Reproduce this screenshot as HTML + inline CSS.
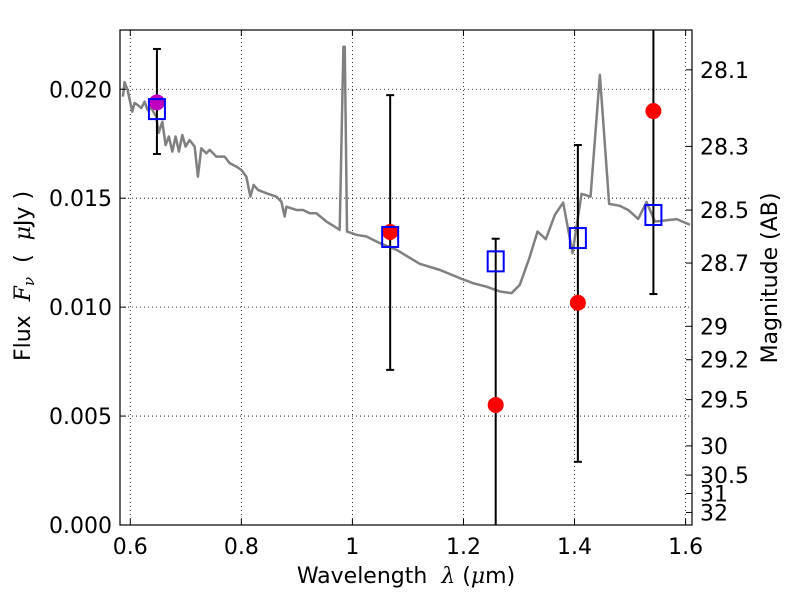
<!DOCTYPE html>
<html><head><meta charset="utf-8"><style>
body{margin:0;background:#fff}
svg{display:block;font-family:"DejaVu Sans","Liberation Sans",sans-serif}
</style></head><body>
<svg id="chart" width="800" height="600" viewBox="0 0 800 600"></svg>
<script>
const specX=[0.5867,0.5897,0.5951,0.6036,0.6077,0.6132,0.6198,0.6258,0.6312,0.6378,0.6468,0.651,0.6577,0.6636,0.6695,0.6757,0.6816,0.6876,0.6937,0.6996,0.7068,0.7159,0.7218,0.7279,0.7369,0.7429,0.755,0.7699,0.7789,0.791,0.8,0.809,0.8162,0.8222,0.8299,0.845,0.8631,0.8721,0.878,0.8811,0.8991,0.911,0.9231,0.9351,0.9532,0.9771,0.9838,0.9862,0.9903,1.0072,1.0252,1.0492,1.0793,1.1213,1.1573,1.1933,1.2173,1.2414,1.2654,1.2865,1.3014,1.3195,1.3333,1.3483,1.3645,1.3795,1.3964,1.4126,1.4288,1.4456,1.4623,1.4816,1.4966,1.5146,1.5297,1.5447,1.5568,1.5838,1.6078];
const specY=[0.01966,0.02033,0.01997,0.01897,0.01937,0.01928,0.01914,0.01943,0.01905,0.01914,0.01874,0.018,0.01851,0.01744,0.01783,0.01714,0.01783,0.01714,0.0179,0.01737,0.01767,0.01737,0.01599,0.01729,0.01706,0.01722,0.01691,0.01691,0.01661,0.01645,0.0163,0.01599,0.01507,0.01561,0.01538,0.01523,0.01507,0.01484,0.01416,0.01461,0.01446,0.01446,0.01431,0.01431,0.01393,0.01355,0.02195,0.02195,0.01347,0.01332,0.01324,0.01294,0.01263,0.01199,0.01171,0.01133,0.0111,0.01094,0.01072,0.01064,0.01102,0.01232,0.01347,0.01312,0.01423,0.0148,0.01248,0.0152,0.01507,0.02066,0.01474,0.01465,0.01446,0.01405,0.01482,0.01393,0.01396,0.01404,0.01378];
const bandX=[0.648,1.068,1.258,1.406,1.542];
const modelFlux=[0.01909,0.01322,0.0121,0.01317,0.01423];
const obsX=[1.068,1.258,1.406,1.542];
const obsFlux=[0.01345,0.00551,0.0102,0.0190];
const extraX=[0.648];
const extraFlux=[0.0194];
const errLow=[0.01703,0.00712,-0.002,0.0029,0.0106];
const errHigh=[0.02185,0.01973,0.01314,0.01744,0.025];
const xTicks=[0.6,0.8,1.0,1.2,1.4,1.6];
const xTickLabels=["0.6","0.8","1","1.2","1.4","1.6"];
const yTicks=[0,0.005,0.010,0.015,0.020];
const yTickLabels=["0.000","0.005","0.010","0.015","0.020"];
const magTicks=[28.1,28.3,28.5,28.7,29,29.2,29.5,30,30.5,31,32];
const magTickLabels=["28.1","28.3","28.5","28.7","29","29.2","29.5","30","30.5","31","32"];

const L=120,R=692,T=30,B=525;
const xmin=0.5815,xmax=1.6115,ymin=0,ymax=0.02272;
const sx=v=>L+(v-xmin)/(xmax-xmin)*(R-L);
const sy=v=>B-(v-ymin)/(ymax-ymin)*(B-T);
const magToFlux=m=>Math.pow(10,(23.9-m)/2.5);
const NS="http://www.w3.org/2000/svg";
const svg=document.getElementById('chart');
function mk(tag,attrs,parent){const e=document.createElementNS(NS,tag);for(const k in attrs)e.setAttribute(k,attrs[k]);(parent||svg).appendChild(e);return e;}
const defs=mk('defs',{});
const cp=mk('clipPath',{id:'clip'},defs);mk('rect',{x:L,y:T,width:R-L,height:B-T},cp);

const grid=mk('g',{stroke:'#000','stroke-width':0.8,'stroke-dasharray':'1,3'});


xTicks.forEach(v=>mk('line',{x1:sx(v),x2:sx(v),y1:T,y2:B},grid));
yTicks.forEach(v=>mk('line',{x1:L,x2:R,y1:sy(v),y2:sy(v)},grid));

const plot=mk('g',{'clip-path':'url(#clip)'});
const sp=mk('polyline',{points:specX.map((x,i)=>sx(x)+','+sy(specY[i])).join(' '),fill:'none',stroke:'#808080','stroke-width':2.5,'stroke-linejoin':'round'},plot);


bandX.forEach((x,i)=>{
  const g=mk('g',{stroke:'#000','stroke-width':2},plot);
  
  
  mk('line',{x1:sx(x),x2:sx(x),y1:sy(errLow[i]),y2:sy(errHigh[i])},g);
  mk('line',{x1:sx(x)-4,x2:sx(x)+4,y1:sy(errLow[i]),y2:sy(errLow[i])},g);
  mk('line',{x1:sx(x)-4,x2:sx(x)+4,y1:sy(errHigh[i]),y2:sy(errHigh[i])},g);
});
obsX.forEach((x,i)=>{
  const c=mk('circle',{cx:sx(x),cy:sy(obsFlux[i]),r:8,fill:'#ff0000'},plot);
  
  
});
extraX.forEach((x,i)=>{
  const c=mk('circle',{cx:sx(x),cy:sy(extraFlux[i]),r:8,fill:'#bf00bf'},plot);
  
  
});
bandX.forEach((x,i)=>{
  const r=mk('rect',{x:sx(x)-8,y:sy(modelFlux[i])-10,width:16,height:20,fill:'none',stroke:'#0000ff','stroke-width':2},plot);
  
  
});

const fr=mk('rect',{x:L,y:T,width:R-L,height:B-T,fill:'none',stroke:'#000','stroke-width':1.2});



const FS=22;
const tk=mk('g',{stroke:'#000','stroke-width':1});
xTicks.forEach((v,i)=>{
  mk('line',{x1:sx(v),x2:sx(v),y1:B,y2:B-6},tk);
  mk('line',{x1:sx(v),x2:sx(v),y1:T,y2:T+6},tk);
  const t=mk('text',{x:sx(v),y:B+29,'text-anchor':'middle','font-size':FS,fill:'#000',stroke:'none'});
  t.textContent=xTickLabels[i];
  
  
});
yTicks.forEach((v,i)=>{
  mk('line',{x1:L,x2:L+6,y1:sy(v),y2:sy(v)},tk);
  const t=mk('text',{x:L-8,y:sy(v)+8,'text-anchor':'end','font-size':FS,fill:'#000',stroke:'none'});
  t.textContent=yTickLabels[i];
  
  
});
magTicks.forEach((m,i)=>{
  const y=sy(magToFlux(m));
  mk('line',{x1:R,x2:R-6,y1:y,y2:y},tk);
  const t=mk('text',{x:R+8,y:y+8,'text-anchor':'start','font-size':FS,fill:'#000',stroke:'none'});
  t.textContent=magTickLabels[i];
  
  
});

const xl=mk('text',{x:406,y:583,'text-anchor':'middle','font-size':22,'xml:space':'preserve'});
xl.innerHTML='Wavelength\u00a0\u00a0<tspan font-style="italic" font-family="DejaVu Serif, serif">λ</tspan> (<tspan font-style="italic" font-family="DejaVu Serif, serif">μ</tspan>m)';


const yl=mk('text',{x:0,y:0,'text-anchor':'middle','font-size':22,transform:'translate(30,276) rotate(-90)'});
yl.innerHTML='Flux\u00a0\u00a0<tspan font-style="italic" font-family="DejaVu Serif, serif">F<tspan font-size="15" dy="4">ν</tspan></tspan><tspan dy="-4">\u00a0\u00a0(\u00a0\u00a0</tspan><tspan font-style="italic" font-family="DejaVu Serif, serif">μ</tspan>Jy )';


const rl=mk('text',{x:0,y:0,'text-anchor':'middle','font-size':22,transform:'translate(777,278) rotate(-90)'});
rl.textContent='Magnitude (AB)';


</script>
</body></html>
